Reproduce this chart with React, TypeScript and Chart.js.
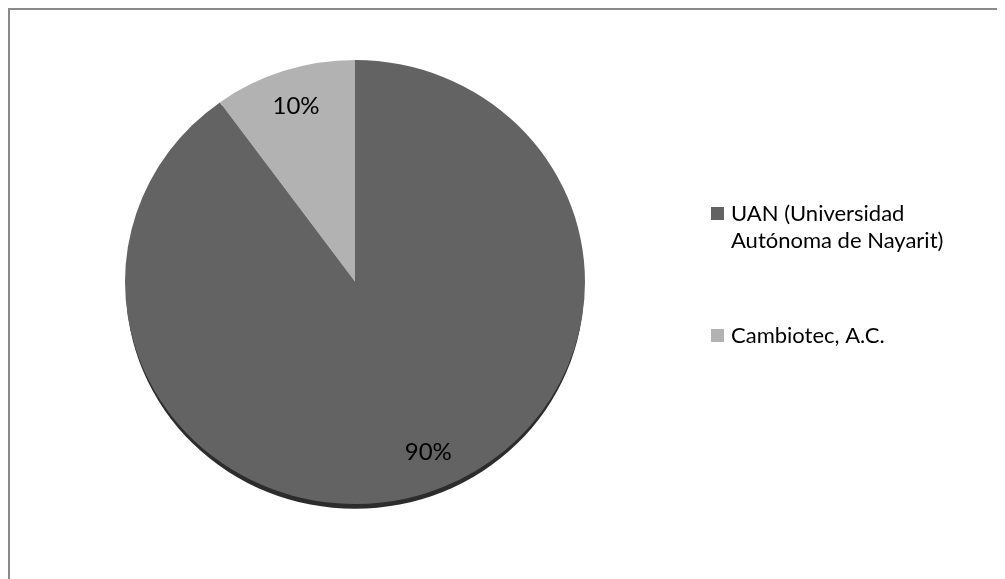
import React, { useEffect, useRef } from "react";
import { Chart, registerables } from "chart.js";

Chart.register(...registerables);

const categories: string[][] = [
  ["UAN (Universidad", "Autónoma de Nayarit)"],
  ["Cambiotec, A.C."],
];
const values: number[] = [90, 10];
const sliceColors: string[] = ["#636363", "#b2b2b2"];
const percentLabels: string[] = ["90%", "10%"];

const FONT = "Lato, 'Open Sans', sans-serif";
const Y_SQUASH = 222 / 230;

const tiltPlugin = {
  id: "pieTilt",
  beforeDatasetsDraw(chart: any) {
    const meta = chart.getDatasetMeta(0);
    const arc = meta.data[0];
    if (!arc) return;
    const { x, y, outerRadius } = arc.getProps(["x", "y", "outerRadius"], true);
    const ctx = chart.ctx;
    ctx.save();
    ctx.translate(x, y);
    ctx.scale(1, Y_SQUASH);
    ctx.translate(-x, -y);
    ctx.fillStyle = "#2c2c2c";
    ctx.beginPath();
    ctx.ellipse(x, y + 5, outerRadius - 1, outerRadius, 0, 0, Math.PI * 2);
    ctx.fill();
  },
  afterDatasetsDraw(chart: any) {
    chart.ctx.restore();
  },
};

const labelPlugin = {
  id: "sliceLabels",
  afterDatasetsDraw(chart: any) {
    const meta = chart.getDatasetMeta(0);
    const ctx = chart.ctx;
    ctx.save();
    ctx.font = `24px ${FONT}`;
    ctx.fillStyle = "#000";
    ctx.textAlign = "center";
    ctx.textBaseline = "middle";
    meta.data.forEach((arc: any, i: number) => {
      const { x, y, startAngle, endAngle, outerRadius } = arc.getProps(
        ["x", "y", "startAngle", "endAngle", "outerRadius"],
        true
      );
      const mid = (startAngle + endAngle) / 2 - (i === 0 ? 0.08 : 0);
      const r = outerRadius * 0.83;
      ctx.fillText(
        percentLabels[i],
        x + Math.cos(mid) * r,
        y + Math.sin(mid) * r * Y_SQUASH
      );
    });
    ctx.restore();
  },
};

const legendPlugin = {
  id: "sideLegend",
  afterDraw(chart: any) {
    const ctx = chart.ctx;
    ctx.save();
    ctx.font = `22px ${FONT}`;
    ctx.textBaseline = "middle";
    ctx.textAlign = "left";
    const x0 = 701;
    const tops = [197, 319];
    categories.forEach((lines, i) => {
      const top = tops[i];
      ctx.fillStyle = sliceColors[i];
      ctx.fillRect(x0, top, 13, 13);
      ctx.fillStyle = "#000";
      lines.forEach((line, j) => {
        ctx.fillText(line, x0 + 20, top + 7 + j * 27);
      });
    });
    ctx.restore();
  },
};

export default function App() {
  const ref = useRef<HTMLCanvasElement | null>(null);
  useEffect(() => {
    if (!ref.current) return;
    const chart = new Chart(ref.current, {
      type: "pie",
      data: {
        labels: categories.map((c) => c.join(" ")),
        datasets: [
          {
            data: values,
            backgroundColor: sliceColors,
            borderWidth: 0,
          },
        ],
      },
      options: {
        animation: false,
        responsive: false,
        maintainAspectRatio: false,
        layout: { padding: { left: 115, top: 42, right: 420, bottom: 67 } },
        plugins: {
          legend: { display: false },
          tooltip: { enabled: false },
        },
      },
      plugins: [tiltPlugin, labelPlugin, legendPlugin],
    });
    return () => chart.destroy();
  }, []);
  return (
    <div
      style={{
        position: "relative",
        width: 997,
        height: 571,
        boxSizing: "border-box",
        borderTop: "2px solid #8a8a8a",
        borderLeft: "2px solid #8a8a8a",
        overflow: "hidden",
      }}
    >
      <canvas ref={ref} width={995} height={569} style={{ display: "block", width: 995, height: 569 }} />
    </div>
  );
}
